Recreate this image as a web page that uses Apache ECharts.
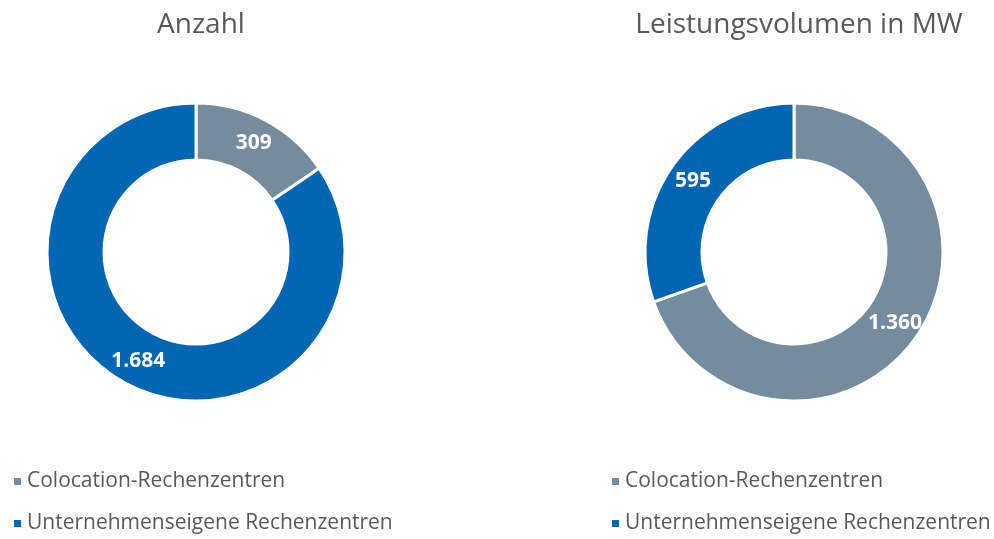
<!DOCTYPE html>
<html>
<head>
<meta charset="utf-8">
<script src="https://cdn.jsdelivr.net/npm/echarts@6/dist/echarts.min.js"></script>
<style>
  html, body { margin: 0; padding: 0; background: #fff; }
  #chart { width: 994px; height: 539px; }
</style>
</head>
<body>
<div id="chart"></div>
<script>
const categories = ['Colocation-Rechenzentren', 'Unternehmenseigene Rechenzentren']
const titles = ['Anzahl', 'Leistungsvolumen in MW']
const anzahlValues = [309, 1684]
const leistungValues = [1360, 595]

const colors = {
  'Colocation-Rechenzentren': '#758b9e',
  'Unternehmenseigene Rechenzentren': '#0066b3'
}
const textColor = '#595959'
const font = 'Open Sans'

function fmt(v) {
  return String(v).replace(/\B(?=(\d{3})+(?!\d))/g, '.')
}

function pieSeries(values, centerX) {
  return {
    type: 'pie',
    center: [centerX, 252],
    radius: [92, 149],
    startAngle: 90,
    clockwise: true,
    avoidLabelOverlap: false,
    label: {
      position: 'inside',
      color: '#fff',
      fontFamily: font,
      fontWeight: 'bold',
      fontSize: 21,
      formatter: p => fmt(p.value)
    },
    labelLine: {show: false},
    itemStyle: {borderColor: '#fff', borderWidth: 3},
    emphasis: {disabled: true},
    data: categories.map((c, i) => ({
      name: c,
      value: values[i],
      itemStyle: {color: colors[c]}
    }))
  }
}

function legendAt(x) {
  return {
    left: x, top: 471, height: 68, padding: 0,
    orient: 'vertical', itemGap: 21, itemWidth: 9, itemHeight: 9,
    icon: 'rect', data: categories,
    textStyle: {color: textColor, fontFamily: font, fontSize: 21}
  }
}

const chart = echarts.init(document.getElementById('chart'))
chart.setOption({
  animation: false,
  title: [
    {text: titles[0], left: 196, top: 6, textAlign: 'center',
      textStyle: {color: textColor, fontFamily: font, fontWeight: 'normal', fontSize: 28}},
    {text: titles[1], left: 794, top: 6, textAlign: 'center',
      textStyle: {color: textColor, fontFamily: font, fontWeight: 'normal', fontSize: 28}}
  ],
  legend: [legendAt(12), legendAt(610)],
  series: [
    pieSeries(anzahlValues, 196),
    pieSeries(leistungValues, 794)
  ]
})
</script>
</body>
</html>
